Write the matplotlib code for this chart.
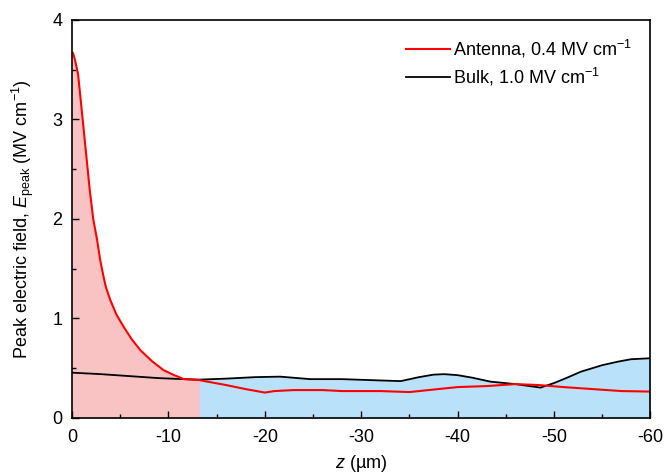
import matplotlib.pyplot as plt
import numpy as np
from matplotlib.ticker import MultipleLocator

plt.rcParams['font.family'] = ['Liberation Sans', 'DejaVu Sans']
plt.rcParams['mathtext.fontset'] = 'custom'
plt.rcParams['mathtext.rm'] = 'Liberation Sans'
plt.rcParams['mathtext.it'] = 'Liberation Sans:italic'
plt.rcParams['axes.unicode_minus'] = False

# Antenna, 0.4 MV/cm (red)
z_ant = [0, -0.1, -0.3, -0.62, -0.97, -1.32, -1.84, -2.2, -2.6, -2.9, -3.2, -3.5,
         -3.95, -4.6, -5.33, -6.2, -7.1, -8.3, -9.5, -10.6, -11.6, -13.2, -16, -18,
         -20, -21, -23, -26, -28, -30, -32, -35, -38, -40, -43, -46, -48.5, -51, -54,
         -57, -60]
E_ant = [3.66, 3.67, 3.60, 3.46, 3.13, 2.79, 2.29, 2.00, 1.79, 1.60, 1.45, 1.32,
         1.19, 1.04, 0.92, 0.79, 0.68, 0.57, 0.48, 0.43, 0.39, 0.38, 0.33, 0.29,
         0.255, 0.27, 0.28, 0.28, 0.27, 0.27, 0.27, 0.26, 0.29, 0.31, 0.32, 0.34,
         0.33, 0.31, 0.29, 0.27, 0.265]

# Bulk, 1.0 MV/cm (black)
z_bulk = [0, -3, -6, -9, -11.6, -13.2, -16, -19, -21.6, -24.7, -28, -31, -34.1, -36,
          -37.5, -38.6, -40, -41.5, -43.4, -46, -48.6, -50, -51.5, -52.8, -55, -56.6,
          -58, -60]
E_bulk = [0.455, 0.44, 0.42, 0.40, 0.39, 0.385, 0.395, 0.41, 0.415, 0.39, 0.39, 0.38,
          0.37, 0.41, 0.435, 0.44, 0.43, 0.405, 0.365, 0.34, 0.305, 0.35, 0.41, 0.465,
          0.53, 0.565, 0.59, 0.60]

z_cross = -13.2

fig = plt.figure(figsize=(6.67, 4.76), dpi=100)
ax = fig.add_axes([0.108, 0.122, 0.867, 0.836])

za, Ea = np.array(z_ant), np.array(E_ant)
zb, Eb = np.array(z_bulk), np.array(E_bulk)
ax.fill_between(za, Ea, where=za >= z_cross, color='#f9c3c3', lw=0, interpolate=True)
ax.fill_between(zb, Eb, where=zb <= z_cross, color='#b9e1f9', lw=0, interpolate=True)

ax.plot(zb, Eb, color='black', lw=1.3, label='Bulk, 1.0 MV cm$^{-1}$')
ax.plot(za, Ea, color='#ff0000', lw=1.5, label='Antenna, 0.4 MV cm$^{-1}$')

ax.set_xlim(0, -60)
ax.set_ylim(0, 4)
ax.xaxis.set_major_locator(MultipleLocator(10))
ax.xaxis.set_minor_locator(MultipleLocator(5))
ax.yaxis.set_major_locator(MultipleLocator(1))
ax.yaxis.set_minor_locator(MultipleLocator(0.5))
ax.tick_params(which='both', direction='in', labelsize=13, width=1)
ax.tick_params(axis='x', which='both', pad=8)
ax.tick_params(axis='y', which='both', pad=7)
ax.tick_params(which='major', length=5)
ax.tick_params(which='minor', length=3)
for s in ax.spines.values():
    s.set_linewidth(1.2)

ax.set_xlabel('$z$ (µm)', fontsize=13, labelpad=5)
ax.set_ylabel('Peak electric field, $E_{\\mathrm{peak}}$ (MV cm$^{-1}$)', fontsize=13, labelpad=12)

h, l = ax.get_legend_handles_labels()
ax.legend(h[::-1], l[::-1], loc='upper right', frameon=False, fontsize=13,
          handlelength=2.4, handletextpad=0.2, borderaxespad=0.6, labelspacing=0.3)

fig.savefig('out.png', dpi=100)
